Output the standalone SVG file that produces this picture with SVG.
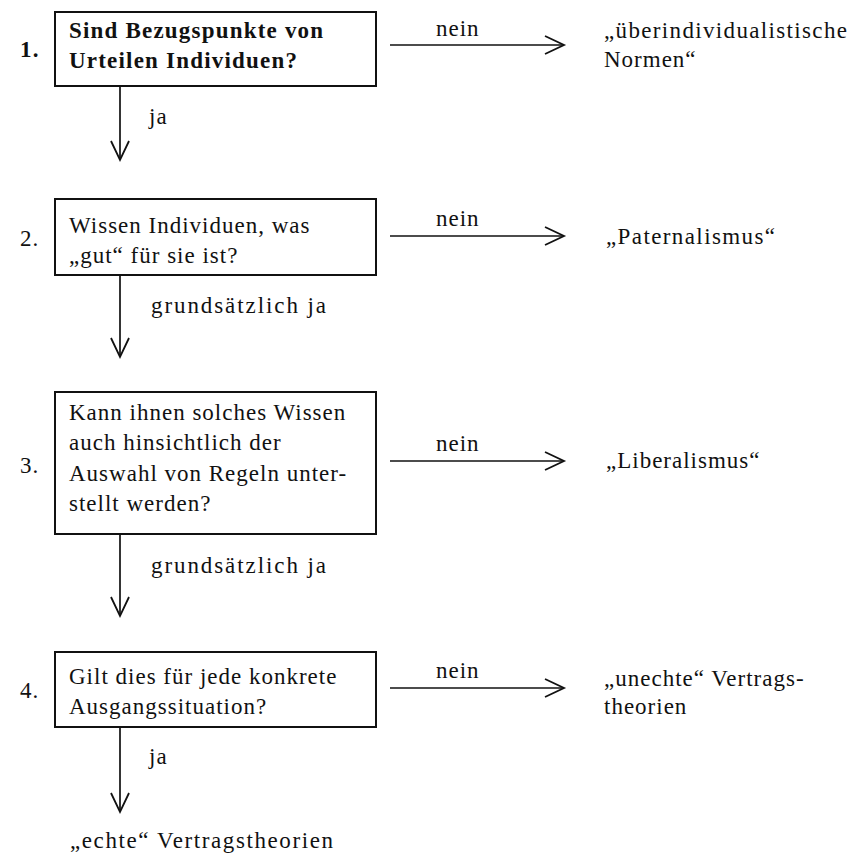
<svg xmlns="http://www.w3.org/2000/svg" width="854" height="854" viewBox="0 0 854 854">
<style>
text{font-family:"Liberation Serif","DejaVu Serif",serif;font-size:23px;letter-spacing:1px;fill:#111}
.b{font-weight:bold;letter-spacing:1.2px}
.box{fill:none;stroke:#111;stroke-width:2}
.ln{fill:none;stroke:#111;stroke-width:1.7}
</style>
<defs>
<marker id="ah" markerWidth="24" markerHeight="24" refX="20" refY="10" orient="auto" markerUnits="userSpaceOnUse" viewBox="0 0 24 20">
<path d="M1,1 L20,10 L1,19" fill="none" stroke="#111" stroke-width="1.8"/>
</marker>
</defs>
<rect width="854" height="854" fill="#fff"/>
<g id="q1">
<text class="b" x="20" y="57">1.</text>
<rect class="box" x="55" y="12" width="321" height="74"/>
<text class="b" x="69" y="38">Sind Bezugspunkte von</text>
<text class="b" x="69" y="68">Urteilen Individuen?</text>
</g>
<g id="r1">
<text x="604" y="38" textLength="244" lengthAdjust="spacing">„überindividualistische</text>
<text x="604" y="67">Normen“</text>
</g>
<g id="q2">
<text x="20" y="246">2.</text>
<rect class="box" x="55" y="199" width="321" height="76"/>
<text x="69" y="233">Wissen Individuen, was</text>
<text x="69" y="263">„gut“ für sie ist?</text>
</g>
<g id="r2">
<text x="606" y="244" textLength="170" lengthAdjust="spacing">„Paternalismus“</text>
</g>
<g id="q3">
<text x="20" y="473">3.</text>
<rect class="box" x="55" y="392" width="321" height="142"/>
<text x="69" y="420">Kann ihnen solches Wissen</text>
<text x="69" y="450">auch hinsichtlich der</text>
<text x="69" y="481">Auswahl von Regeln unter-</text>
<text x="69" y="511">stellt werden?</text>
</g>
<g id="r3">
<text x="606" y="468">„Liberalismus“</text>
</g>
<g id="q4">
<text x="20" y="698">4.</text>
<rect class="box" x="55" y="652" width="321" height="75"/>
<text x="69" y="684">Gilt dies für jede konkrete</text>
<text x="69" y="714">Ausgangssituation?</text>
</g>
<g id="r4">
<text x="604" y="686">„unechte“ Vertrags-</text>
<text x="604" y="714">theorien</text>
</g>
<g id="r5">
<text x="70" y="848" textLength="264" lengthAdjust="spacing">„echte“ Vertragstheorien</text>
</g>
<g id="connectors">
<line class="ln" x1="120" y1="86" x2="120" y2="160" marker-end="url(#ah)"/>
<line class="ln" x1="120" y1="275" x2="120" y2="357" marker-end="url(#ah)"/>
<line class="ln" x1="120" y1="534" x2="120" y2="616" marker-end="url(#ah)"/>
<line class="ln" x1="120" y1="727" x2="120" y2="812" marker-end="url(#ah)"/>
<line class="ln" x1="390" y1="45" x2="564" y2="45" marker-end="url(#ah)"/>
<line class="ln" x1="390" y1="236" x2="564" y2="236" marker-end="url(#ah)"/>
<line class="ln" x1="390" y1="461" x2="564" y2="461" marker-end="url(#ah)"/>
<line class="ln" x1="390" y1="688" x2="564" y2="688" marker-end="url(#ah)"/>
<text x="149" y="124">ja</text>
<text x="151" y="313" textLength="176" lengthAdjust="spacing">grundsätzlich ja</text>
<text x="151" y="573" textLength="176" lengthAdjust="spacing">grundsätzlich ja</text>
<text x="149" y="764">ja</text>
<text x="436" y="36">nein</text>
<text x="436" y="226">nein</text>
<text x="436" y="451">nein</text>
<text x="436" y="678">nein</text>
</g>
</svg>
